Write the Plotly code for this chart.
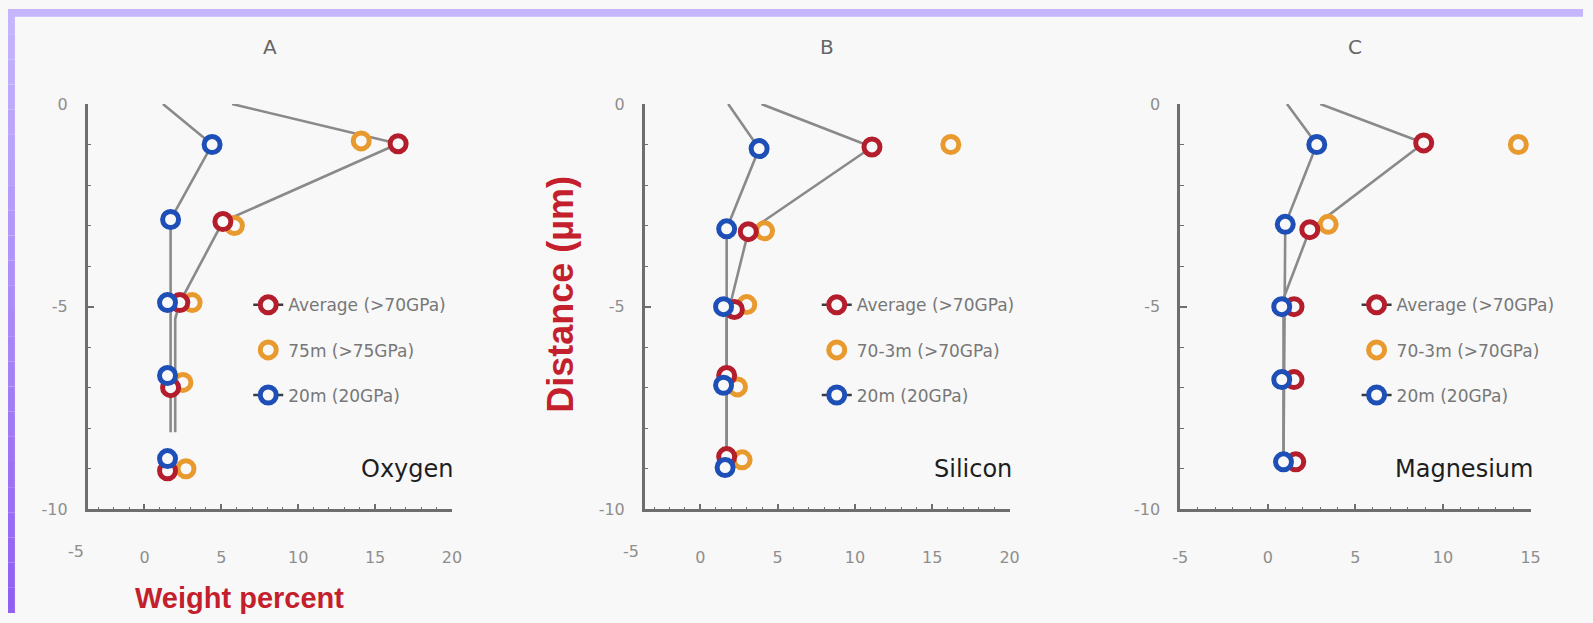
import plotly.graph_objects as go

# ---------------- data: weight percent vs. distance below the surface ----------------
# Oxygen (panel A)
o_avg_x = [16.5, 5.1, 2.3, 1.7, 1.5]
o_avg_y = [-0.98, -2.9, -4.9, -7.0, -9.05]
o_hi_x = [14.1, 5.85, 3.1, 2.5, 2.7]
o_hi_y = [-0.91, -3.0, -4.9, -6.87, -9.0]
o_20_x = [4.4, 1.7, 1.5, 1.5, 1.5]
o_20_y = [-1.0, -2.85, -4.9, -6.7, -8.75]
o_prof_avg_x = [5.7, 16.5, 5.1, 2.3, 2.0, 2.0]
o_prof_avg_y = [0.0, -0.98, -2.9, -4.9, -5.3, -8.1]
o_prof_20_x = [1.2, 4.4, 1.7, 1.7]
o_prof_20_y = [0.0, -1.0, -2.85, -8.1]

# Silicon (panel B)
s_avg_x = [11.1, 3.1, 2.2, 1.7, 1.7]
s_avg_y = [-1.06, -3.15, -5.07, -6.7, -8.7]
s_hi_x = [16.2, 4.15, 3.0, 2.4, 2.7]
s_hi_y = [-1.0, -3.13, -4.95, -6.98, -8.78]
s_20_x = [3.8, 1.7, 1.5, 1.5, 1.6]
s_20_y = [-1.1, -3.08, -5.0, -6.94, -8.97]
s_prof_avg_x = [3.95, 11.1, 3.1, 2.0, 1.7, 1.7]
s_prof_avg_y = [0.0, -1.06, -3.15, -4.9, -5.3, -8.7]
s_prof_20_x = [1.8, 3.8, 1.7, 1.7]
s_prof_20_y = [0.0, -1.1, -3.08, -8.7]

# Magnesium (panel C)
m_avg_x = [8.9, 2.4, 1.5, 1.5, 1.6]
m_avg_y = [-0.96, -3.1, -5.0, -6.8, -8.83]
m_hi_x = [14.3, 3.45]
m_hi_y = [-1.0, -2.97]
m_20_x = [2.8, 1.0, 0.8, 0.8, 0.9]
m_20_y = [-1.0, -2.97, -5.0, -6.8, -8.83]
m_prof_avg_x = [3.0, 8.9, 2.4, 0.9, 0.9]
m_prof_avg_y = [0.0, -0.96, -3.1, -4.8, -8.83]
m_prof_20_x = [1.1, 2.8, 1.0, 0.9]
m_prof_20_y = [0.0, -1.0, -2.97, -8.83]

panel_letters = ["A", "B", "C"]
elements = ["Oxygen", "Silicon", "Magnesium"]
legend_names = [
    ["Average (>70GPa)", "75m (>75GPa)", "20m (20GPa)"],
    ["Average (>70GPa)", "70-3m (>70GPa)", "20m (20GPa)"],
    ["Average (>70GPa)", "70-3m (>70GPa)", "20m (20GPa)"],
]
x_ranges = [[-3.7, 20], [-3.6, 20], [-5, 15]]
x_tickvals = [[0, 5, 10, 15, 20], [0, 5, 10, 15, 20], [-5, 0, 5, 10, 15]]
x_ticktext = [["0", "5", "10", "15", "20"], ["0", "5", "10", "15", "20"],
              ["-5", "0", "5", "10", "15"]]
y_tickvals = [0, -5, -10]
y_ticktext = ["0", "-5", "-10"]

panels = [
    dict(avg=(o_avg_x, o_avg_y), hi=(o_hi_x, o_hi_y), lo=(o_20_x, o_20_y),
         pa=(o_prof_avg_x, o_prof_avg_y), pl=(o_prof_20_x, o_prof_20_y)),
    dict(avg=(s_avg_x, s_avg_y), hi=(s_hi_x, s_hi_y), lo=(s_20_x, s_20_y),
         pa=(s_prof_avg_x, s_prof_avg_y), pl=(s_prof_20_x, s_prof_20_y)),
    dict(avg=(m_avg_x, m_avg_y), hi=(m_hi_x, m_hi_y), lo=(m_20_x, m_20_y),
         pa=(m_prof_avg_x, m_prof_avg_y), pl=(m_prof_20_x, m_prof_20_y)),
]

# ---------------- styling ----------------
W, H = 1593, 623
BG = "#f8f8f8"
RED, ORANGE, BLUE = "#b41e2c", "#e99a2e", "#1e4fb6"
PROFILE = "#8a8a8a"
AXIS = "#6e6e6e"
TICKFONT = dict(family="DejaVu Sans", size=16, color="#8e8e8e")

# plot-area pixel boxes (left, right) and shared vertical extent
x_px = [(80.5, 449), (644, 1013), (1185.5, 1540)]
y_top_px, y_bot_px = 98, 516
legend_left_px = [243, 818, 1364]


def px_to_paper_x(px):
    return px / W


def px_to_paper_y(py):
    return 1 - py / H


def y_domain_frac(py):
    return (y_bot_px - py) / (y_bot_px - y_top_px)


fig = go.Figure()


def marker_style(color):
    return dict(symbol="circle", size=16, color=BG, line=dict(color=color, width=5))


for i, p in enumerate(panels):
    xa = "x" if i == 0 else f"x{i + 1}"
    ya = "y" if i == 0 else f"y{i + 1}"
    leg = "legend" if i == 0 else f"legend{i + 1}"
    names = legend_names[i]

    # grey depth profiles
    for key in ("pl", "pa"):
        fig.add_trace(go.Scatter(
            x=p[key][0], y=p[key][1], xaxis=xa, yaxis=ya, mode="lines",
            line=dict(color=PROFILE, width=2.6), hoverinfo="skip", showlegend=False))

    # measured points
    for key, color, name in (("hi", ORANGE, names[1]), ("avg", RED, names[0]),
                             ("lo", BLUE, names[2])):
        fig.add_trace(go.Scatter(
            x=p[key][0], y=p[key][1], xaxis=xa, yaxis=ya, mode="markers",
            marker=marker_style(color), name=name, showlegend=False))

    # legend keys
    for k, (color, with_line) in enumerate(((RED, True), (ORANGE, False), (BLUE, True))):
        fig.add_trace(go.Scatter(
            x=[None], y=[None], xaxis=xa, yaxis=ya,
            mode="lines+markers" if with_line else "markers",
            line=dict(color="#3c3c3c", width=2.5),
            marker=marker_style(color), name=names[k],
            legend=leg, legendgroup=f"{leg}-{k}", showlegend=True))

    xl, xr = x_px[i]
    axis_common = dict(showline=True, linecolor=AXIS, linewidth=2.5, showgrid=False,
                       zeroline=False, ticks="inside", tickcolor=AXIS, tickwidth=1.5,
                       tickfont=TICKFONT)
    fig.layout[f"xaxis{'' if i == 0 else i + 1}"] = dict(
        domain=[px_to_paper_x(xl), px_to_paper_x(xr)], range=x_ranges[i],
        anchor=ya, tickmode="array", tickvals=x_tickvals[i], ticktext=x_ticktext[i],
        ticklen=6, ticklabelstandoff=32,
        minor=dict(ticks="inside", ticklen=3, dtick=1, tick0=0, tickcolor=AXIS,
                   tickwidth=1.2),
        **axis_common)
    fig.layout[f"yaxis{'' if i == 0 else i + 1}"] = dict(
        domain=[px_to_paper_y(y_bot_px), px_to_paper_y(y_top_px)], range=[-10, 0],
        anchor=xa, tickmode="array", tickvals=y_tickvals, ticktext=y_ticktext,
        ticklen=7, ticklabelstandoff=14,
        minor=dict(ticks="inside", ticklen=4, dtick=1, tick0=0, tickcolor=AXIS,
                   tickwidth=1.2),
        **axis_common)

    # panel letter above, element name in the lower right corner
    fig.add_annotation(text=panel_letters[i], xref=f"{xa} domain", yref=f"{ya} domain",
                       x=0.5, y=y_domain_frac(39), xanchor="center", yanchor="middle",
                       showarrow=False,
                       font=dict(family="DejaVu Sans", size=20, color="#666666"))
    fig.add_annotation(text=elements[i], xref=f"{xa} domain", yref=f"{ya} domain",
                       x=1, xanchor="right", xshift=4, y=y_domain_frac(474),
                       yanchor="middle", showarrow=False,
                       font=dict(family="DejaVu Sans", size=24, color="#1e1e1e"))

    # the -5 label sits left of the vertical axis in panels A and B
    if x_ranges[i][0] > -5:
        r0, r1 = x_ranges[i]
        fig.add_annotation(text="-5", xref=f"{xa} domain", yref=f"{ya} domain",
                           x=(-5 - r0) / (r1 - r0), y=0, xanchor="center",
                           yanchor="top", yshift=-31, xshift=8, showarrow=False,
                           font=TICKFONT)

    # legend box
    fig.layout[leg] = dict(
        x=px_to_paper_x(legend_left_px[i]), y=px_to_paper_y(287),
        xanchor="left", yanchor="top", bgcolor="rgba(0,0,0,0)", borderwidth=0,
        font=dict(family="DejaVu Sans", size=17, color="#777777"),
        tracegroupgap=20, traceorder="grouped")

# axis titles
fig.add_annotation(text="Weight percent", xref="paper", yref="paper",
                   x=px_to_paper_x(234), y=px_to_paper_y(608), xanchor="center",
                   yanchor="middle", showarrow=False,
                   font=dict(family="Liberation Sans", size=29, color="#c41f2d",
                             weight="bold"))
fig.add_annotation(text="Distance (µm)", xref="paper", yref="paper",
                   x=px_to_paper_x(558), y=px_to_paper_y(294), xanchor="center",
                   yanchor="middle", textangle=-90, showarrow=False,
                   font=dict(family="Liberation Sans", size=36, color="#c41f2d",
                             weight="bold"))

# lavender frame along the top and left edges
shapes = [dict(type="rect", xref="paper", yref="paper", x0=0, x1=1,
               y0=px_to_paper_y(8), y1=1, fillcolor="#c5b5fd", line_width=0,
               layer="below")]
bands = 24
top_rgb, bot_rgb = (197, 181, 253), (144, 96, 242)
for b in range(bands):
    t = b / (bands - 1)
    rgb = tuple(round(top_rgb[c] + (bot_rgb[c] - top_rgb[c]) * t) for c in range(3))
    shapes.append(dict(type="rect", xref="paper", yref="paper", x0=0,
                       x1=px_to_paper_x(7), y0=1 - (b + 1) / bands, y1=1 - b / bands,
                       fillcolor=f"rgb{rgb}", line_width=0, layer="below"))

fig.update_layout(width=W, height=H, margin=dict(l=0, r=0, t=0, b=0),
                  paper_bgcolor=BG, plot_bgcolor=BG, shapes=shapes,
                  hovermode="closest")

fig.write_html("out.html")
